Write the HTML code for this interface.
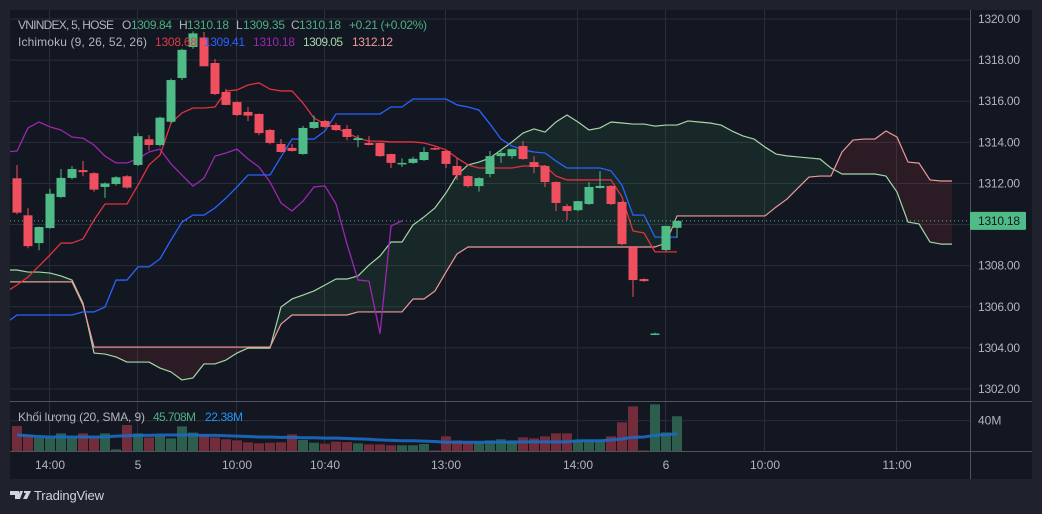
<!DOCTYPE html>
<html><head><meta charset="utf-8"><style>
html,body{margin:0;padding:0;background:#1e222d;}
svg{display:block;font-family:"Liberation Sans",sans-serif;}
</style></head><body>
<svg id="c" width="1042" height="514" viewBox="0 0 1042 514" xmlns="http://www.w3.org/2000/svg">
<rect x="0" y="0" width="1042" height="514" fill="#1f222c"/>
<rect x="10" y="10" width="1022" height="469" fill="#131722"/>
<defs>
<clipPath id="mainClip"><rect x="10" y="10" width="960" height="391"/></clipPath>
<clipPath id="volClip"><rect x="10" y="402" width="960" height="49"/></clipPath>
</defs>
<g id="grid"></g>
<g id="cloud" clip-path="url(#mainClip)"></g>
<g id="lines" clip-path="url(#mainClip)"></g>
<g id="candles" clip-path="url(#mainClip)"></g>
<g id="vol" clip-path="url(#volClip)"></g>
<g id="axes"></g>
<g font-size="12">
<text x="18" y="29" fill="#b2b5be" textLength="96">VNINDEX, 5, HOSE</text>
<text x="122" y="29" fill="#b2b5be">O</text>
<text x="131" y="29" fill="#4caf83" textLength="41">1309.84</text>
<text x="179" y="29" fill="#b2b5be">H</text>
<text x="187" y="29" fill="#4caf83" textLength="42">1310.18</text>
<text x="236" y="29" fill="#b2b5be">L</text>
<text x="243" y="29" fill="#4caf83" textLength="42">1309.35</text>
<text x="291" y="29" fill="#b2b5be">C</text>
<text x="299" y="29" fill="#4caf83" textLength="42">1310.18</text>
<text x="349" y="29" fill="#4caf83" textLength="78">+0.21 (+0.02%)</text>
<text x="18" y="46" fill="#b2b5be" textLength="129">Ichimoku (9, 26, 52, 26)</text>
<text x="155" y="46" fill="#e03a48" textLength="42">1308.68</text>
<text x="204" y="46" fill="#2962ff" textLength="41">1309.41</text>
<text x="253" y="46" fill="#9c27b0" textLength="42">1310.18</text>
<text x="303" y="46" fill="#a5d6a7" textLength="40">1309.05</text>
<text x="352" y="46" fill="#ef9a9a" textLength="41">1312.12</text>
</g>
<g font-size="12">
<text x="18" y="421" fill="#b2b5be" textLength="127">Khối lượng (20, SMA, 9)</text>
<text x="153" y="421" fill="#4caf83" textLength="43">45.708M</text>
<text x="205" y="421" fill="#2196f3" textLength="38">22.38M</text>
</g>
<g>
<path d="M10 491h9v8h-4v-4h-5z M20 491h3l-3 8h-3z M24 491h7l-4 8h-4l3-6h-2z" fill="#d1d4dc"/>
<text x="34" y="500" fill="#d1d4dc" font-size="13" textLength="70">TradingView</text>
</g>
</svg>
<script>
// ---- data ----
const opens  = [1312.25,1310.45,1309.10,1309.83,1311.34,1312.27,1312.65,1312.50,1311.83,1311.97,1312.35,1312.90,1314.15,1313.87,1315.00,1317.13,1318.64,1319.10,1317.86,1316.45,1315.96,1315.48,1315.38,1314.60,1313.92,1313.73,1313.43,1314.70,1315.04,1314.84,1314.65,1314.11,1313.97,1313.97,1313.43,1312.97,1313.00,1313.14,1313.72,1313.58,1312.85,1312.36,1311.87,1312.46,1313.33,1313.33,1313.82,1313.04,1312.85,1312.07,1310.90,1310.70,1311.00,1311.78,1311.88,1311.10,1308.90,1307.35,1304.68,1308.76,1309.84];
const highs  = [1312.90,1310.80,1309.90,1311.73,1312.70,1312.85,1313.10,1312.55,1312.05,1312.35,1312.40,1314.45,1314.35,1315.25,1317.10,1318.55,1319.40,1319.37,1318.05,1316.60,1316.00,1315.72,1315.40,1314.65,1314.16,1313.92,1314.80,1315.30,1315.10,1314.95,1314.84,1314.35,1314.30,1314.00,1313.45,1313.22,1313.30,1313.77,1313.76,1313.62,1313.24,1312.40,1312.30,1313.58,1313.63,1313.70,1314.07,1313.33,1312.90,1312.10,1311.00,1311.14,1312.07,1312.60,1311.92,1311.15,1308.95,1307.38,1304.74,1309.95,1310.18];
const lows   = [1310.50,1308.85,1308.75,1309.80,1311.30,1312.20,1312.35,1311.60,1311.30,1311.90,1311.75,1312.85,1313.60,1313.80,1314.95,1317.03,1318.55,1317.70,1316.30,1315.80,1315.28,1315.04,1314.35,1313.90,1313.50,1313.55,1313.40,1314.65,1314.70,1314.55,1314.10,1313.77,1313.85,1313.30,1312.75,1312.80,1312.95,1313.10,1313.62,1312.75,1312.17,1311.80,1311.60,1312.30,1313.00,1313.20,1313.15,1312.50,1311.83,1310.66,1310.22,1310.65,1310.95,1311.75,1310.95,1309.00,1306.48,1307.22,1304.66,1308.70,1309.35];
const closes = [1310.58,1308.95,1309.88,1311.50,1312.27,1312.70,1312.55,1311.70,1312.00,1312.30,1311.80,1314.30,1313.87,1315.20,1317.03,1318.50,1319.30,1317.70,1316.35,1315.82,1315.33,1315.30,1314.45,1313.97,1313.53,1313.58,1314.70,1314.99,1314.75,1314.60,1314.26,1314.20,1313.87,1313.33,1313.00,1313.00,1313.20,1313.53,1313.67,1312.95,1312.40,1311.87,1312.26,1313.33,1313.48,1313.67,1313.19,1312.80,1312.07,1311.05,1310.66,1311.14,1311.83,1311.88,1311.00,1309.05,1307.30,1307.25,1304.70,1309.93,1310.18];
const volumes = [32.8,21,17.6,17.6,23.2,17.6,23.2,17.6,23.2,2.1,34.2,23.2,17.9,19.8,16.6,32.4,24.2,21,17.9,15.4,14,11.4,10.1,10.9,11.4,21.9,14.5,10.9,9.7,12.3,11.8,10.1,8.7,8.7,7.5,7.5,7.5,9.2,0.8,19.3,14,12.3,11.4,14,15.4,14,17.9,16.6,19.3,23.2,23.2,14,14,14,19.3,37.7,58.7,0.8,61.4,24.5,45.7];
const volSma = [21,20,19,18.5,18.5,18.5,18.5,18.5,18.5,19.5,20,20.5,20.5,21,21,21,21,20.5,20.5,20,19.5,19,18.5,18.5,18,18,17.5,17.5,17,17,16.5,16,15.5,14.5,14,13.5,13.5,13,12.5,11.5,11.5,11.5,11.5,11.5,11.5,11.5,12,12,12,12,12,13.5,13.5,13.5,14.5,16,18,18.5,20.5,21.5,22.4];
// lines start at index -1
const tenkan = [1306.72,1307.06,1307.45,1307.98,1308.52,1309.10,1309.10,1309.30,1310.22,1311.00,1311.00,1311.00,1311.92,1312.90,1313.38,1314.94,1315.43,1315.67,1315.67,1315.72,1316.50,1316.55,1316.79,1316.89,1316.59,1316.50,1316.50,1315.91,1315.18,1314.89,1314.70,1314.45,1314.21,1314.06,1314.06,1314.02,1314.02,1314.02,1313.97,1313.82,1313.63,1313.24,1312.90,1312.75,1312.75,1312.75,1312.75,1312.85,1312.85,1312.85,1312.36,1312.17,1312.17,1312.17,1312.17,1312.17,1311.34,1309.69,1309.59,1308.67,1308.67,1308.67];
const kijun = [1305.21,1305.60,1305.60,1305.60,1305.60,1305.60,1305.60,1305.75,1305.75,1305.99,1307.30,1307.30,1307.94,1307.94,1308.33,1309.25,1310.12,1310.46,1310.46,1310.81,1311.29,1311.83,1312.41,1312.41,1312.41,1313.29,1314.16,1314.16,1314.16,1314.55,1315.38,1315.38,1315.38,1315.38,1315.38,1315.72,1315.72,1316.11,1316.11,1316.11,1316.11,1315.82,1315.72,1315.57,1314.89,1314.16,1313.82,1313.63,1313.53,1313.48,1313.09,1312.75,1312.75,1312.75,1312.75,1312.61,1311.92,1310.46,1310.46,1309.39,1309.39,1309.39];
const spanA = [1307.79,1307.79,1307.69,1307.69,1307.64,1307.50,1307.30,1306.18,1303.75,1303.70,1303.56,1303.31,1303.31,1303.31,1303.02,1302.83,1302.44,1302.54,1303.22,1303.22,1303.41,1303.75,1303.99,1303.99,1303.99,1305.99,1306.38,1306.57,1306.77,1307.06,1307.35,1307.35,1307.50,1308.03,1308.47,1309.15,1309.15,1309.98,1310.37,1310.81,1311.54,1312.41,1312.90,1313.04,1313.24,1313.63,1314.02,1314.45,1314.65,1314.50,1314.99,1315.33,1314.99,1314.60,1314.70,1314.99,1314.94,1314.89,1314.89,1314.79,1314.84,1314.84,1315.04,1314.99,1314.94,1314.84,1314.55,1314.31,1314.16,1313.77,1313.43,1313.34,1313.29,1313.24,1313.19,1312.75,1312.46,1312.46,1312.46,1312.46,1312.36,1311.58,1310.12,1310.03,1309.15,1309.05,1309.05];
const spanB = [1307.21,1307.21,1307.21,1307.21,1307.21,1307.21,1307.21,1306.09,1304.04,1304.04,1304.04,1304.04,1304.04,1304.04,1304.04,1304.04,1304.04,1304.04,1304.04,1304.04,1304.04,1304.04,1304.04,1304.04,1304.04,1305.16,1305.60,1305.60,1305.60,1305.60,1305.60,1305.60,1305.75,1305.75,1305.75,1305.75,1305.75,1306.38,1306.38,1306.77,1307.69,1308.57,1308.91,1308.91,1308.91,1308.91,1308.91,1308.91,1308.91,1308.91,1308.91,1308.91,1308.91,1308.91,1308.91,1308.91,1308.91,1308.91,1308.91,1308.91,1309.10,1310.42,1310.42,1310.42,1310.42,1310.42,1310.42,1310.42,1310.42,1310.42,1310.85,1311.24,1311.78,1312.31,1312.36,1312.36,1313.53,1314.11,1314.16,1314.16,1314.55,1314.26,1313.04,1312.99,1312.17,1312.12,1312.12];
const chikouShift = 25;
const priceTicks = [1320,1318,1316,1314,1312,1310,1308,1306,1304,1302];
const timeLabels = ["14:00","5","10:00","10:40","13:00","14:00","6","10:00","11:00"];
const timeIdx = [3,11,20,28,39,51,59,68,80];
const lastPrice = 1310.18;

// ---- scales ----
const NS = "http://www.w3.org/2000/svg";
const X = i => 17 + 11 * i;
const Y = p => 19 + (1320 - p) * 20.556;
const VB = 451, VK = 0.76;
const VY = v => VB - v * VK;
function mk(tag, attrs, parent){const e=document.createElementNS(NS,tag);for(const k in attrs)e.setAttribute(k,attrs[k]);parent.appendChild(e);return e;}

// grid
const grid=document.getElementById('grid');
priceTicks.forEach(p=>{
  const l=mk('line',{x1:10,x2:970,y1:Y(p),y2:Y(p),stroke:'#2a2e39','stroke-width':1},grid);
  
  
});
timeIdx.forEach(i=>{
  const x=X(i)-0.5;
  const l=mk('line',{x1:x,x2:x,y1:10,y2:451,stroke:'#2a2e39','stroke-width':1},grid);
  
  
});
{
  const l=mk('line',{x1:10,x2:970,y1:VY(40),y2:VY(40),stroke:'#2a2e39','stroke-width':1},grid);
  
  
}

// cloud fill
const cloud=document.getElementById('cloud');
for(let k=0;k<spanA.length-1;k++){
  const i0=k-1,i1=k;
  const a0=spanA[k],a1=spanA[k+1],b0=spanB[k],b1=spanB[k+1];
  const d0=a0-b0,d1=a1-b1;
  const col=d=>d>=0?'rgba(76,175,80,0.11)':'rgba(244,67,54,0.11)';
  let polys=[];
  if(d0*d1>=0){
    polys.push([[[X(i0),Y(a0)],[X(i1),Y(a1)],[X(i1),Y(b1)],[X(i0),Y(b0)]],col(d0+d1)]);
  } else {
    const t=d0/(d0-d1);const xi=X(i0)+11*t;const pi=a0+(a1-a0)*t;
    polys.push([[[X(i0),Y(a0)],[xi,Y(pi)],[X(i0),Y(b0)]],col(d0)]);
    polys.push([[[xi,Y(pi)],[X(i1),Y(a1)],[X(i1),Y(b1)]],col(d1)]);
  }
  polys.forEach(([pts,c])=>{
    const pg=mk('polygon',{points:pts.map(p=>p.join(',')).join(' '),fill:c},cloud);
    
    
  });
}

// lines
const lines=document.getElementById('lines');
function drawLine(arr,start,color,w,name){
  const pts=arr.map((v,k)=>X(start+k)+','+Y(v)).join(' ');
  const pl=mk('polyline',{points:pts,fill:'none',stroke:color,'stroke-width':w,'stroke-linejoin':'round'},lines);
  
  
}
drawLine(spanA,-1,'#a5d6a7',1.2,'senkou-span-a-line');
drawLine(spanB,-1,'#ef9a9a',1.2,'senkou-span-b-line');
const chik=closes.slice(chikouShift-1);
drawLine(chik,-1,'#9c27b0',1.3,'chikou-span-line');
drawLine(kijun,-1,'#2962ff',1.3,'kijun-sen-line');
drawLine(tenkan,-1,'#e0323f',1.3,'tenkan-sen-line');

// last price dotted line
{
  const l=mk('line',{x1:10,x2:970,y1:Y(lastPrice),y2:Y(lastPrice),stroke:'#4fbf95','stroke-width':1,'stroke-dasharray':'1 3'},lines);
  
  
}

// candles
const cg=document.getElementById('candles');
closes.forEach((c,i)=>{
  const o=opens[i],up=c>=o,col=up?'#4fbc87':'#ef4f5f';
  const g=mk('g',{},cg);
  
  
  mk('line',{x1:X(i),x2:X(i),y1:Y(highs[i]),y2:Y(lows[i]),stroke:col,'stroke-width':1},g);
  const top=Y(Math.max(o,c)),bot=Y(Math.min(o,c));
  mk('rect',{x:X(i)-4.5,y:top,width:9,height:Math.max(1.5,bot-top),fill:col},g);
});

// volume
const vg=document.getElementById('vol');
volumes.forEach((v,i)=>{
  const up=closes[i]>=opens[i];
  const r=mk('rect',{x:X(i)-5,y:VY(v),width:10,height:VB-VY(v),fill:up?'#2d5e4d':'#722c3a'},vg);
  
  
});
{
  const pl=mk('polyline',{points:volSma.map((v,i)=>X(i)+','+VY(v)).join(' '),fill:'none',stroke:'#1b6cc2','stroke-width':3,'stroke-opacity':0.9,'stroke-linejoin':'round'},vg);
  
  
}

// axes
const ax=document.getElementById('axes');
mk('line',{x1:970.5,x2:970.5,y1:10,y2:479,stroke:'#50535e','stroke-width':1},ax);
mk('line',{x1:10,x2:1032,y1:401.5,y2:401.5,stroke:'#50535e','stroke-width':1},ax);
mk('line',{x1:10,x2:1032,y1:451.5,y2:451.5,stroke:'#50535e','stroke-width':1},ax);
priceTicks.forEach(p=>{
  const t=mk('text',{x:978,y:Y(p)+4,fill:'#b2b5be','font-size':12,textLength:42},ax);
  t.textContent=p.toFixed(2);
  
  
});
{
  const t=mk('text',{x:978,y:VY(40)+4,fill:'#b2b5be','font-size':12},ax);
  t.textContent='40M';
  
  
}
timeLabels.forEach((s,k)=>{
  const t=mk('text',{x:X(timeIdx[k]),y:469,fill:'#b2b5be','font-size':12,'text-anchor':'middle'},ax);
  t.textContent=s;
  
  
});
{
  const y=Y(lastPrice);
  const r=mk('rect',{x:970,y:y-9,width:56,height:18,rx:1,fill:'#4fbc87'},ax);
  
  
  const t=mk('text',{x:978,y:y+4,fill:'#131722','font-size':12,textLength:42},ax);
  t.textContent=lastPrice.toFixed(2);
  
  
}
</script>
</body></html>
